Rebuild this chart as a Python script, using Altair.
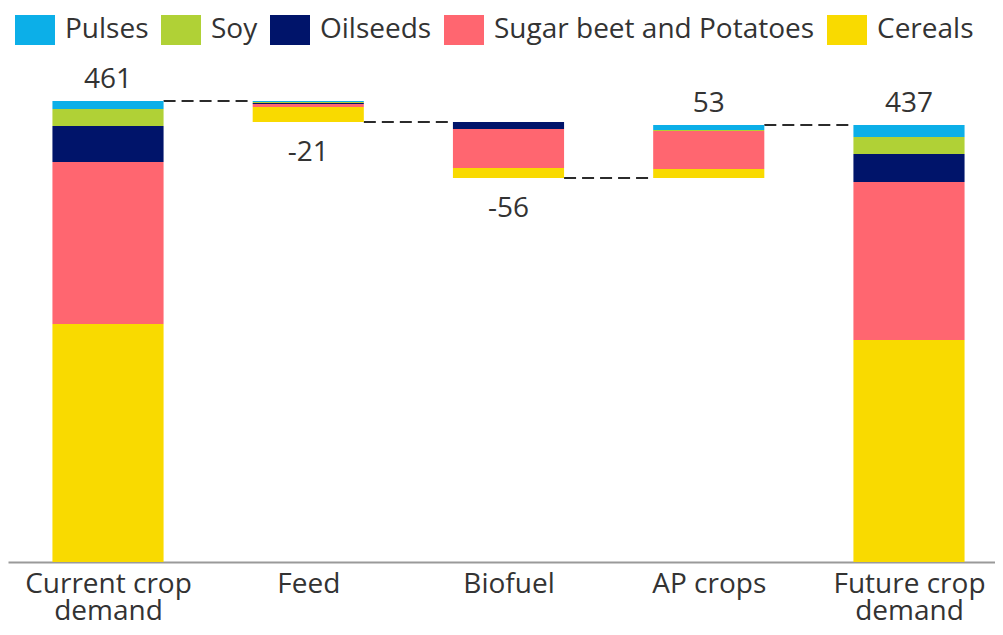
import altair as alt
import pandas as pd

categories = ["Current crop demand", "Feed", "Biofuel", "AP crops", "Future crop demand"]
axis_labels = ["Current crop|demand", "Feed", "Biofuel", "AP crops", "Future crop|demand"]
kinds = ["total", "step", "step", "step", "total"]
value_labels = ["461", "-21", "-56", "53", "437"]

crops = ["Pulses", "Soy", "Oilseeds", "Sugar beet and Potatoes", "Cereals"]
colors = ["#0CAFE8", "#B0D136", "#00146A", "#FF6670", "#F9DA00"]

pulses = [8, -1, 0, 5, 12]
soy = [17, -1, 0, 1, 17]
oilseeds = [36, -1, -7, 0, 28]
sugar = [162, -3, -39, 38, 158]
cereals = [238, -15, -10, 9, 222]

series = {
    "Pulses": pulses,
    "Soy": soy,
    "Oilseeds": oilseeds,
    "Sugar beet and Potatoes": sugar,
    "Cereals": cereals,
}
stack_order = ["Cereals", "Sugar beet and Potatoes", "Oilseeds", "Soy", "Pulses"]

HW = 0.2775  # half bar width in category units

seg_rows, label_rows, conn_rows = [], [], []
level = 0
levels_after = []
for i, cat in enumerate(categories):
    total = sum(series[c][i] for c in crops)
    if kinds[i] == "total":
        lo, hi = 0, total
        new_level = total
    else:
        new_level = level + total
        lo, hi = min(level, new_level), max(level, new_level)
    base = lo
    for c in stack_order:
        v = abs(series[c][i])
        if v > 0:
            seg_rows.append({"cat": cat, "crop": c, "xa": float(i - HW), "xb": float(i + HW),
                             "y0": float(base), "y1": float(base + v)})
            base += v
    if total >= 0:
        label_rows.append({"x": float(i), "txt": value_labels[i], "y": float(hi), "pos": 1})
    else:
        label_rows.append({"x": float(i), "txt": value_labels[i], "y": float(lo), "pos": -1})
    level = new_level
    levels_after.append(level)

for i in range(len(categories) - 1):
    conn_rows.append({"xa": float(i + HW), "xb": float(i + 1 - HW), "y": float(levels_after[i])})

segs = pd.DataFrame(seg_rows)
pos_labs = pd.DataFrame([r for r in label_rows if r["pos"] > 0])
neg_labs = pd.DataFrame([r for r in label_rows if r["pos"] < 0])
conns = pd.DataFrame(conn_rows)

FONT = "Open Sans"
label_array = "[" + ",".join("'" + s + "'" for s in axis_labels) + "]"
xscale = alt.Scale(domain=[-0.4994, 4.4295], nice=False, zero=False)
yscale = alt.Scale(domain=[0, 514], nice=False, zero=True)


def xaxis():
    return alt.Axis(
        title=None, values=[0, 1, 2, 3, 4], labelAngle=0, ticks=False, grid=False,
        domainColor="#9a9a9a", domainWidth=2,
        labelFont=FONT, labelFontSize=28, labelColor="#333333", labelPadding=8,
        labelLineHeight=27,
        labelExpr="split(" + label_array + "[datum.value], '|')",
    )


bars = alt.Chart(segs).mark_bar().encode(
    x=alt.X("xa:Q", scale=xscale, axis=xaxis()),
    x2="xb:Q",
    y=alt.Y("y0:Q", scale=yscale, axis=None),
    y2="y1:Q",
    color=alt.Color(
        "crop:N",
        scale=alt.Scale(domain=crops, range=colors),
        legend=alt.Legend(
            title=None, orient="none", direction="horizontal", legendX=7, legendY=-38,
            symbolType="M-1,-0.75H1V0.75H-1Z", symbolSize=1600, symbolStrokeWidth=0,
            labelFont=FONT, labelFontSize=28, labelColor="#333333", labelOffset=10,
            labelLimit=600, columnPadding=12,
        ),
    ),
)

rules = alt.Chart(conns).mark_rule(color="#2b2b2b", strokeWidth=2, strokeDash=[12, 6]).encode(
    x=alt.X("xa:Q", scale=xscale, axis=xaxis()),
    x2="xb:Q",
    y=alt.Y("y:Q", scale=yscale, axis=None),
)

pos_text = alt.Chart(pos_labs).mark_text(
    font=FONT, fontSize=28, color="#333333", baseline="alphabetic", dy=-13
).encode(
    x=alt.X("x:Q", scale=xscale, axis=xaxis()),
    y=alt.Y("y:Q", scale=yscale, axis=None),
    text="txt:N",
)
neg_text = alt.Chart(neg_labs).mark_text(
    font=FONT, fontSize=28, color="#333333", baseline="top", dy=17
).encode(
    x=alt.X("x:Q", scale=xscale, axis=xaxis()),
    y=alt.Y("y:Q", scale=yscale, axis=None),
    text="txt:N",
)

chart = alt.layer(rules, bars, pos_text, neg_text).properties(
    width=987, height=514,
    autosize=alt.AutoSizeParams(type="none"),
    padding={"top": 40, "left": 0, "right": 0, "bottom": 65},
).configure_view(stroke=None)

chart.save("out.html", embed_options={"renderer": "svg", "actions": False})
